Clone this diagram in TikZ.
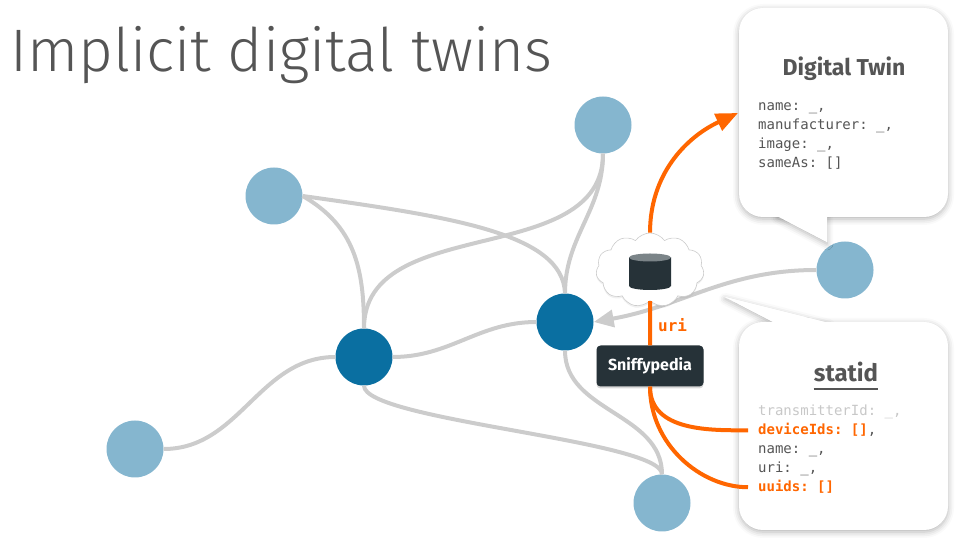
\documentclass[tikz,border=0pt]{standalone}
\usepackage{fontspec}
\setmainfont{Fira Sans}
\setmonofont{DejaVu Sans Mono}
\newfontfamily\lightfont{Fira Sans Light}
\usetikzlibrary{arrows.meta,shapes.symbols,shadows,shadows.blur}
\definecolor{leafblue}{HTML}{85B6CF}
\definecolor{hubblue}{HTML}{0A6FA1}
\definecolor{wiregray}{HTML}{CCCCCC}
\definecolor{sniff}{HTML}{FF6600}
\definecolor{slate}{HTML}{263238}
\definecolor{slatetop}{HTML}{7B8488}
\definecolor{ink}{HTML}{555555}
\definecolor{faint}{HTML}{C8C8C8}
\begin{document}
\begin{tikzpicture}[x=1pt, y=1pt,
  leaf/.style={shape=circle, fill=leafblue, minimum size=57pt, inner sep=0pt},
  hub/.style={shape=circle, fill=hubblue, minimum size=57pt, inner sep=0pt},
  wire/.style={draw=wiregray, line width=4pt},
  feed/.style={draw=sniff, line width=4pt},
  callout/.style={fill=white, blur shadow={shadow xshift=0pt, shadow yshift=-2pt, shadow blur radius=6pt, shadow opacity=30}},
  field/.style={anchor=base west, inner sep=0pt, text=ink, font=\ttfamily\fontsize{14}{19}\selectfont}]
\useasboundingbox (0,0) rectangle (960,540);
\node[anchor=base west, inner sep=0pt, text=ink, font=\lightfont\fontsize{60}{60}\selectfont] (title) at (10,468) {Implicit digital twins};
% device graph
\node[leaf] (A) at (274,344) {};
\node[leaf] (B) at (603,415) {};
\node[leaf] (C) at (135,91) {};
\node[leaf] (D) at (662,37) {};
\node[leaf] (E) at (845,270) {};
\node[hub] (F) at (364,183) {};
\node[hub] (G) at (565,218) {};
\path [wire] (A.east) edge[out=-8, in=92, out distance=150pt, in distance=60pt] (G.north);
\path [wire] (A.east) edge[out=-30, in=90, out distance=60pt, in distance=60pt] (F.north);
\path [wire] (B.south) edge[out=-90, in=90] (F.north);
\path [wire] (B.south) edge[out=-90, in=90] (G.north);
\path [wire] (F.east) edge[out=0, in=180] (G.west);
\path [wire] (C.east) edge[out=0, in=180] (F.west);
\path [wire] (F.south) edge[out=-90, in=90, out distance=35pt, in distance=34pt] (D.north);
\path [wire] (G.south) edge[out=-90, in=90] (D.north);
\draw [wire, -{Triangle[length=20pt, width=17pt]}] (E.west) to[out=180, in=10] (G.east);
% sniffypedia cloud
\node[cloud, cloud puffs=11, cloud puff arc=110, aspect=1.5, minimum width=108pt, minimum height=74pt, fill=white, draw=wiregray, line width=0.6pt, drop shadow={opacity=0.12, shadow xshift=0pt, shadow yshift=-2pt}] (cloud) at (650,270) {};
\fill[slate] (629,282.5) -- (629,254) arc[start angle=180, end angle=360, x radius=21, y radius=4] -- (671,282.5) -- cycle;
\fill[slatetop] (650,282.5) ellipse[x radius=21, y radius=4];
% callouts
\path[callout] (777,324) -- (827,298) -- (827,324) -- cycle;
\path[callout] (739,323) [rounded corners=24pt] rectangle (948,532);
\path[fill=white] (777,324) -- (827,298) -- (827,324) -- cycle;
\path[callout] (775,217) -- (725,243) -- (829,217) -- cycle;
\path[callout] (739,10) [rounded corners=24pt] rectangle (948,218);
\path[fill=white] (775,217) -- (725,243) -- (829,217) -- cycle;
\node[anchor=base, text=ink, font=\bfseries\fontsize{23}{23}\selectfont] (dtTitle) at (844,464) {Digital Twin};
\node[field] (dtName) at (758,429) {name: \_,};
\node[field] (dtMaker) at (758,410) {manufacturer: \_,};
\node[field] (dtImage) at (758,391) {image: \_,};
\node[field] (dtSame) at (758,372) {sameAs: []};
\node[anchor=base, inner sep=0pt, text=ink, font=\bfseries\fontsize{24}{24}\selectfont] (stTitle) at (846,158) {statid};
\draw[ink, line width=1.6pt] ([yshift=-7pt]stTitle.base west) -- ([yshift=-7pt]stTitle.base east);
\node[field, text=faint] (stTx) at (758,124) {transmitterId: \_,};
\node[field] (stDev) at (758,105) {\textcolor{sniff}{\bfseries deviceIds: []},};
\node[field] (stName) at (758,86) {name: \_,};
\node[field] (stUri) at (758,67) {uri: \_,};
\node[field] (stUuids) at (758,48) {\textcolor{sniff}{\bfseries uuids: []}};
% sniffypedia links
\coordinate (dtIn) at (738,427);
\draw[feed, -{Triangle[length=22pt, width=18pt]}] (cloud.north) to[out=90, in=205] (dtIn);
\node[fill=slate, rounded corners=4pt, minimum width=107pt, minimum height=41pt, text=white, font=\bfseries\fontsize{16}{16}\selectfont, drop shadow={opacity=0.3, shadow xshift=0pt, shadow yshift=-2pt}] (sniffy) at (650,174) {Sniffypedia};
\draw[feed] (cloud.south) -- (sniffy.north);
\draw[feed, shorten >=10pt] (sniffy.south) to[out=-90, in=180] (stDev.west);
\draw[feed, shorten >=10pt] (sniffy.south) to[out=-90, in=180] (stUuids.west);
\node[anchor=base west, inner sep=0pt, text=sniff, font=\ttfamily\bfseries\fontsize{16}{16}\selectfont] (uriLabel) at (658,208) {uri};
\end{tikzpicture}
\end{document}
